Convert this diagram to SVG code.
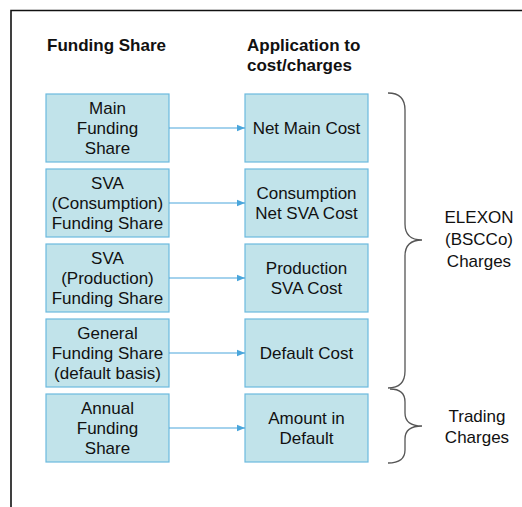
<svg xmlns="http://www.w3.org/2000/svg" width="522" height="507" viewBox="0 0 522 507">
  <defs>
    <marker id="arrow" viewBox="0 0 8 8" refX="8" refY="4" markerWidth="8" markerHeight="8" markerUnits="userSpaceOnUse" orient="auto">
      <path d="M0,0.8 L8,4 L0,7.2 Z" fill="#4aa6dc"/>
    </marker>
    <style>
      .box { fill: #c1e3ea; stroke: #6cb9de; stroke-width: 1.2; }
      .label { font-family: "Liberation Sans", Arial, sans-serif; font-size: 17px; fill: #111; text-anchor: middle; }
      .head { font-family: "Liberation Sans", Arial, sans-serif; font-size: 17px; font-weight: bold; fill: #111; }
      .side { font-family: "Liberation Sans", Arial, sans-serif; font-size: 17px; fill: #111; text-anchor: middle; }
      .link { stroke: #4aa6dc; stroke-width: 1.2; fill: none; marker-end: url(#arrow); }
      .brace { stroke: #555; stroke-width: 1.3; fill: none; }
    </style>
  </defs>
  <rect width="522" height="507" fill="#fff"/>

  <!-- outer frame (open to the right and bottom) -->
  <path d="M11,507 L11,10.5 L522,10.5" fill="none" stroke="#111" stroke-width="1.6"/>

  <!-- column headings -->
  <text class="head" x="47" y="51">Funding Share</text>
  <text class="head" x="247" y="51">Application to</text>
  <text class="head" x="247" y="71">cost/charges</text>

  <!-- funding shares -->
  <g id="main-share">
    <rect class="box" x="46" y="94" width="123" height="68"/>
    <text class="label" x="107.5" y="114">Main</text>
    <text class="label" x="107.5" y="134">Funding</text>
    <text class="label" x="107.5" y="154">Share</text>
  </g>
  <g id="consumption-share">
    <rect class="box" x="46" y="169" width="123" height="68"/>
    <text class="label" x="107.5" y="189">SVA</text>
    <text class="label" x="107.5" y="209">(Consumption)</text>
    <text class="label" x="107.5" y="229">Funding Share</text>
  </g>
  <g id="production-share">
    <rect class="box" x="46" y="244" width="123" height="68"/>
    <text class="label" x="107.5" y="264">SVA</text>
    <text class="label" x="107.5" y="284">(Production)</text>
    <text class="label" x="107.5" y="304">Funding Share</text>
  </g>
  <g id="general-share">
    <rect class="box" x="46" y="319" width="123" height="68"/>
    <text class="label" x="107.5" y="339">General</text>
    <text class="label" x="107.5" y="359">Funding Share</text>
    <text class="label" x="107.5" y="379">(default basis)</text>
  </g>
  <g id="annual-share">
    <rect class="box" x="46" y="394" width="123" height="68"/>
    <text class="label" x="107.5" y="414">Annual</text>
    <text class="label" x="107.5" y="434">Funding</text>
    <text class="label" x="107.5" y="454">Share</text>
  </g>

  <!-- costs / charges -->
  <g id="net-main-cost">
    <rect class="box" x="245" y="94" width="123" height="68"/>
    <text class="label" x="306.5" y="134">Net Main Cost</text>
  </g>
  <g id="consumption-cost">
    <rect class="box" x="245" y="169" width="123" height="68"/>
    <text class="label" x="306.5" y="199">Consumption</text>
    <text class="label" x="306.5" y="219">Net SVA Cost</text>
  </g>
  <g id="production-cost">
    <rect class="box" x="245" y="244" width="123" height="68"/>
    <text class="label" x="306.5" y="274">Production</text>
    <text class="label" x="306.5" y="294">SVA Cost</text>
  </g>
  <g id="default-cost">
    <rect class="box" x="245" y="319" width="123" height="68"/>
    <text class="label" x="306.5" y="359">Default Cost</text>
  </g>
  <g id="amount-in-default">
    <rect class="box" x="245" y="394" width="123" height="68"/>
    <text class="label" x="306.5" y="424">Amount in</text>
    <text class="label" x="306.5" y="444">Default</text>
  </g>

  <!-- connectors -->
  <g id="connectors">
    <line class="link" x1="169" y1="128" x2="245" y2="128"/>
    <line class="link" x1="169" y1="203" x2="245" y2="203"/>
    <line class="link" x1="169" y1="278" x2="245" y2="278"/>
    <line class="link" x1="169" y1="353" x2="245" y2="353"/>
    <line class="link" x1="169" y1="428" x2="245" y2="428"/>
  </g>

  <!-- grouping braces -->
  <g id="elexon-charges">
    <path class="brace" d="M388,93 Q405,93 405,110 L405,224 Q405,240 422,240 Q405,240 405,256 L405,371 Q405,388 388,388"/>
    <text class="side" x="479" y="223">ELEXON</text>
    <text class="side" x="479" y="245">(BSCCo)</text>
    <text class="side" x="479" y="267">Charges</text>
  </g>
  <g id="trading-charges">
    <path class="brace" d="M390,389 Q405,389 405,402 L405,413 Q405,426 422,426 Q405,426 405,439 L405,450 Q405,463 388,463"/>
    <text class="side" x="477" y="422">Trading</text>
    <text class="side" x="477" y="443">Charges</text>
  </g>
</svg>
